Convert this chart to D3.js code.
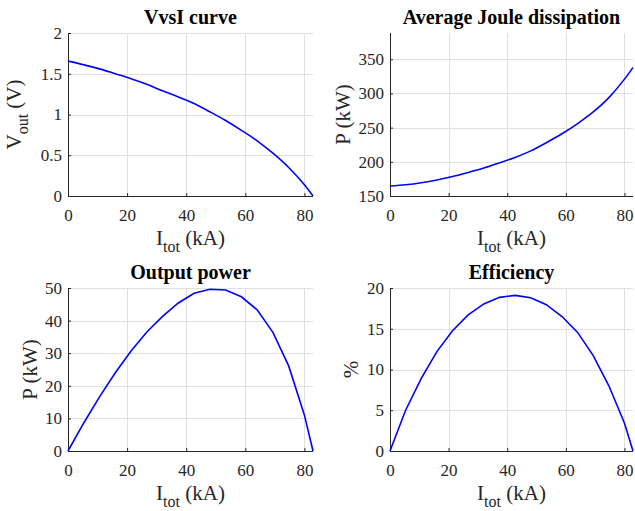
<!DOCTYPE html>
<html>
<head>
<meta charset="utf-8">
<script src="https://cdn.jsdelivr.net/npm/d3@7"></script>
<style>
  body { margin: 0; background: #fff; }
  svg { display: block; font-family: "Liberation Serif", "Times New Roman", serif; }
  svg text { font-family: "Liberation Serif", "Times New Roman", serif !important; }
</style>
</head>
<body>
<div id="chart"></div>
<script>
// total current (kA), shared by all four panels
var currentKA = [0, 5.33, 10.67, 16, 21.33, 26.67, 32, 37.33, 42.67, 48, 53.33, 58.67, 64, 69.33, 74.67, 80, 82.9];
var voltageV = [1.655, 1.61, 1.56, 1.50, 1.44, 1.37, 1.29, 1.215, 1.134, 1.033, 0.926, 0.806, 0.677, 0.525, 0.35, 0.1375, 0];
var jouleKW = [164.6, 166.5, 169.5, 173.5, 178.5, 184.5, 191, 198.5, 206.5, 216, 228, 241, 256, 273, 294, 321, 338];
var outputKW = [0, 8.6, 16.6, 24.0, 30.7, 36.5, 41.3, 45.4, 48.4, 49.6, 49.4, 47.3, 43.3, 36.4, 26.1, 11.0, 0];
var efficiencyPct = [0, 5.0, 8.9, 12.2, 14.75, 16.7, 18.05, 18.85, 19.1, 18.8, 17.95, 16.5, 14.55, 11.7, 8.0, 3.4, 0];

var xTicks = [0, 20, 40, 60, 80];
var vTicks = [0, 0.5, 1, 1.5, 2];
var jouleTicks = [150, 200, 250, 300, 350];
var outputTicks = [0, 10, 20, 30, 40, 50];
var effTicks = [0, 5, 10, 15, 20];

var W = 635, H = 511;
var axisColor = "#262626", gridColor = "#e0e0e0";

var svg = d3.select("#chart").append("svg").attr("width", W).attr("height", H);
svg.append("rect").attr("width", W).attr("height", H).attr("fill", "#fff");

var panels = [
  {title: "VvsI curve", y: voltageV, yDomain: [0, 2], yTicks: vTicks, ylab: ["V", "out", " (V)"], smooth: true,
   box: {l: 68, r: 313, t: 33, b: 196}, ylabX: 47},
  {title: "Average Joule dissipation", y: jouleKW, yDomain: [150, 388.5], yTicks: jouleTicks, ylab: ["P (kW)"], smooth: true,
   box: {l: 390, r: 633, t: 33, b: 196}, ylabX: 40},
  {title: "Output power", y: outputKW, yDomain: [0, 50], yTicks: outputTicks, ylab: ["P (kW)"], smooth: false,
   box: {l: 68, r: 313, t: 288, b: 451}, ylabX: 31},
  {title: "Efficiency", y: efficiencyPct, yDomain: [0, 20], yTicks: effTicks, ylab: ["%"], smooth: false,
   box: {l: 390, r: 633, t: 288, b: 451}, ylabX: 32}
];

panels.forEach(function(p){
  var b = p.box;
  var x = d3.scaleLinear().domain([0, 82.9]).range([b.l, b.r]);
  var y = d3.scaleLinear().domain(p.yDomain).range([b.b, b.t]);
  var g = svg.append("g");

  // grid
  g.append("g").selectAll("line").data(xTicks.filter(function(d){return d > 0;})).enter().append("line")
    .attr("x1", function(d){return Math.round(x(d)) + 0.5;}).attr("x2", function(d){return Math.round(x(d)) + 0.5;})
    .attr("y1", b.t).attr("y2", b.b)
    .attr("stroke", gridColor).attr("stroke-width", 1);
  g.append("g").selectAll("line").data(p.yTicks.filter(function(d){return d > p.yDomain[0];})).enter().append("line")
    .attr("x1", b.l).attr("x2", b.r)
    .attr("y1", function(d){return Math.round(y(d)) + 0.5;}).attr("y2", function(d){return Math.round(y(d)) + 0.5;})
    .attr("stroke", gridColor).attr("stroke-width", 1);

  // axes (ticks inside, like matlab)
  var xAxis = d3.axisBottom(x).tickValues(xTicks).tickSize(-3).tickPadding(13).tickFormat(d3.format("d"));
  var yAxis = d3.axisLeft(y).tickValues(p.yTicks).tickSize(-3).tickPadding(6).tickFormat(function(d){return String(d);});
  var gx = g.append("g").attr("transform", "translate(0," + b.b + ")").call(xAxis);
  var gy = g.append("g").attr("transform", "translate(" + b.l + ",0)").call(yAxis);
  [gx, gy].forEach(function(a){
    a.attr("font-family", null).attr("font-size", null);
    a.select(".domain").attr("stroke", axisColor).attr("stroke-width", 1);
    a.selectAll(".tick line").attr("stroke", axisColor);
    a.selectAll(".tick text").attr("fill", axisColor).style("font-size", "17px");
  });
  gy.select(".domain").attr("d", "M0.5," + b.b + "V" + b.t);
  gx.select(".domain").attr("d", "M" + b.l + ",0.5H" + b.r);

  // curve
  var pts = currentKA.map(function(c, i){return [c, p.y[i]];});
  var line = d3.line().x(function(d){return x(d[0]);}).y(function(d){return y(d[1]);})
    .curve(p.smooth ? d3.curveMonotoneX : d3.curveLinear);
  g.append("path").datum(pts).attr("d", line)
    .attr("fill", "none").attr("stroke", "#0000ff").attr("stroke-width", 1.6);

  // title
  g.append("text").attr("x", (b.l + b.r) / 2).attr("y", b.t - 9)
    .attr("text-anchor", "middle").style("font-size", "20px").style("font-weight", "bold")
    .attr("fill", "#000").text(p.title);

  // x label: I_tot (kA)
  var xl = g.append("text").attr("x", (b.l + b.r) / 2).attr("y", b.b + 49)
    .attr("text-anchor", "middle").style("font-size", "21px").attr("fill", axisColor);
  xl.append("tspan").text("I");
  xl.append("tspan").attr("dy", 7).style("font-size", "16px").text("tot");
  xl.append("tspan").attr("dy", -7).text(" (kA)");

  // y label
  var yl = g.append("text")
    .attr("transform", "translate(" + (b.l - p.ylabX) + "," + ((b.t + b.b) / 2) + ") rotate(-90)")
    .attr("text-anchor", "middle").style("font-size", "21px").attr("fill", axisColor);
  if (p.ylab.length === 3) {
    yl.append("tspan").text(p.ylab[0]);
    yl.append("tspan").attr("dy", 7).style("font-size", "16px").text(p.ylab[1]);
    yl.append("tspan").attr("dy", -7).text(p.ylab[2]);
  } else {
    yl.text(p.ylab[0]);
  }
});
</script>
</body>
</html>
